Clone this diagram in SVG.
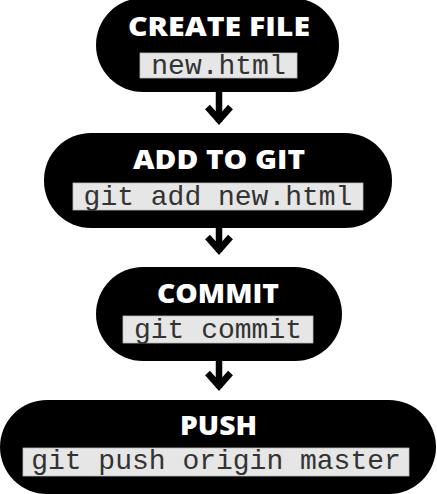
<svg xmlns="http://www.w3.org/2000/svg" width="437" height="494" viewBox="0 0 437 494">
<style>
.pill{fill:#000}
.title{font-family:"Open Sans",Lato,sans-serif;font-weight:800;font-size:26px;fill:#fff;text-anchor:middle}
.box{fill:#e6e6e6;stroke:#bbb;stroke-width:0.8}
.code{font-family:"Liberation Mono","Courier New",monospace;font-size:28px;fill:#333;text-anchor:middle}
.arrow{fill:none;stroke:#000;stroke-width:6.5;stroke-linejoin:miter;stroke-miterlimit:10}
</style>
<rect width="437" height="494" fill="#fff"/>
<g id="connectors">
<path class="arrow" d="M219,90 V122 M207.5,107 L219,120 L230.5,107"/>
<path class="arrow" d="M219,227 V252 M207.5,237 L219,250 L230.5,237"/>
<path class="arrow" d="M219,360 V388 M207.5,373 L219,386 L230.5,373"/>
</g>
<g id="node-create">
<rect class="pill" x="96" y="-2" width="243" height="94" rx="47"/>
<text class="title" x="219" y="36" textLength="182" lengthAdjust="spacingAndGlyphs">CREATE FILE</text>
<rect class="box" x="140" y="53" width="157" height="25"/>
<text class="code" x="218.5" y="74">new.html</text>
</g>
<g id="node-add">
<rect class="pill" x="44" y="133" width="348" height="95" rx="47"/>
<text class="title" x="219" y="169" textLength="172" lengthAdjust="spacingAndGlyphs">ADD TO GIT</text>
<rect class="box" x="73" y="183" width="290" height="27"/>
<text class="code" x="218" y="205">git add new.html</text>
</g>
<g id="node-commit">
<rect class="pill" x="96" y="267" width="246" height="94" rx="47"/>
<text class="title" x="218" y="303" textLength="122" lengthAdjust="spacingAndGlyphs">COMMIT</text>
<rect class="box" x="123" y="316" width="190" height="27"/>
<text class="code" x="218" y="338">git commit</text>
</g>
<g id="node-push">
<rect class="pill" x="0" y="400" width="436" height="94" rx="47"/>
<text class="title" x="218.5" y="435" textLength="77" lengthAdjust="spacingAndGlyphs">PUSH</text>
<rect class="box" x="23" y="448" width="386" height="28"/>
<text class="code" x="216" y="469">git push origin master</text>
</g>
</svg>
